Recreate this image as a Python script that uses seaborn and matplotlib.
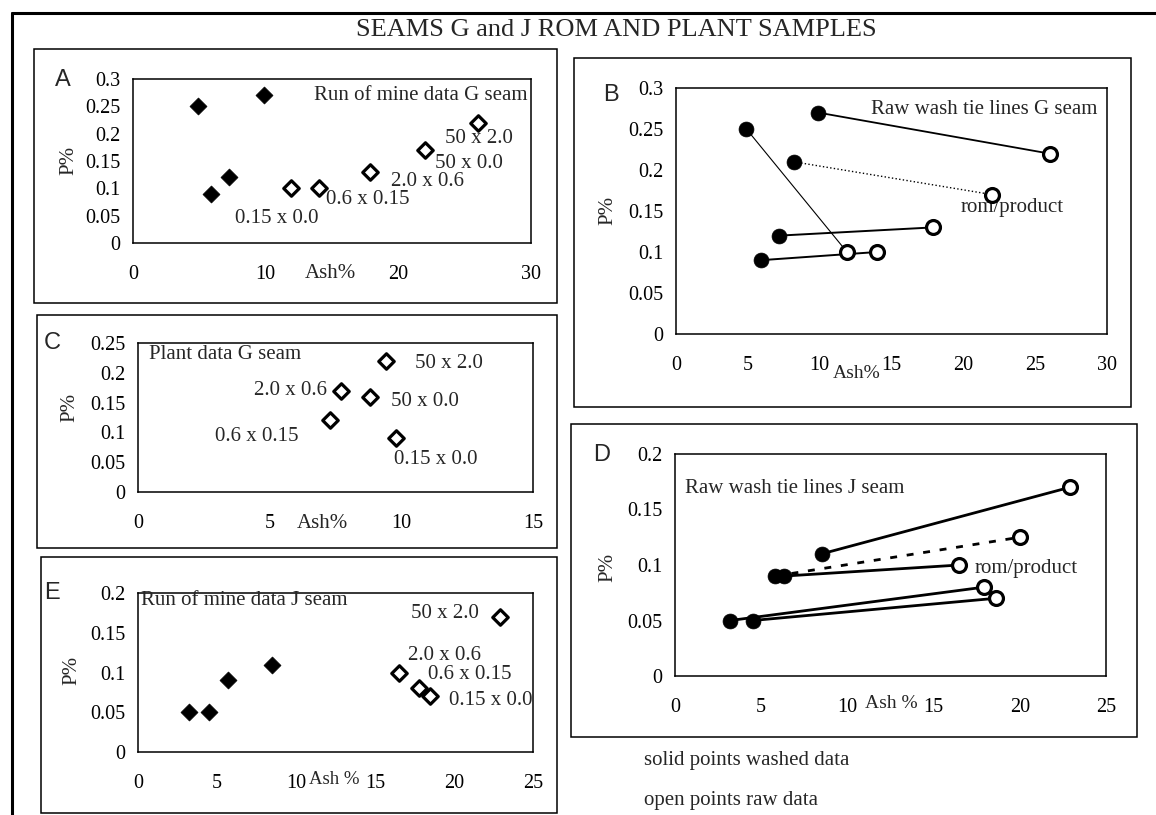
import numpy as np
import pandas as pd
import matplotlib
matplotlib.use("Agg")
import matplotlib.pyplot as plt
import seaborn as sns
from matplotlib.lines import Line2D
from matplotlib.patches import Rectangle

# ---------------- data ----------------
# Panel A: run of mine, G seam
g_rom_washed_ash = [4.9, 5.9, 7.2, 9.9]
g_rom_washed_p = [0.25, 0.09, 0.12, 0.27]
g_rom_raw_ash = [11.9, 14.0, 17.9, 22.0, 26.0]
g_rom_raw_p = [0.10, 0.10, 0.13, 0.17, 0.22]
g_rom_raw_labels = ["0.15 x 0.0", "0.6 x 0.15", "2.0 x 0.6", "50 x 0.0", "50 x 2.0"]

# Panel B: raw/wash tie lines, G seam
g_tie_washed_ash = [9.9, 4.9, 8.2, 7.2, 5.9]
g_tie_washed_p = [0.27, 0.25, 0.21, 0.12, 0.09]
g_tie_raw_ash = [26.0, 11.9, 22.0, 17.9, 14.0]
g_tie_raw_p = [0.22, 0.10, 0.17, 0.13, 0.10]

# Panel C: plant data, G seam
g_plant_ash = [7.3, 7.7, 8.8, 9.4, 9.8]
g_plant_p = [0.12, 0.17, 0.16, 0.22, 0.09]
g_plant_labels = ["0.6 x 0.15", "2.0 x 0.6", "50 x 0.0", "50 x 2.0", "0.15 x 0.0"]

# Panel D: raw/wash tie lines, J seam
j_tie_washed_ash = [8.5, 5.8, 6.3, 3.2, 4.5]
j_tie_washed_p = [0.11, 0.09, 0.09, 0.05, 0.05]
j_tie_raw_ash = [22.9, 20.0, 16.5, 17.9, 18.6]
j_tie_raw_p = [0.17, 0.125, 0.10, 0.08, 0.07]

# Panel E: run of mine, J seam
j_rom_washed_ash = [3.2, 4.5, 5.7, 8.5]
j_rom_washed_p = [0.05, 0.05, 0.09, 0.11]
j_rom_raw_ash = [16.5, 17.8, 18.5, 22.9]
j_rom_raw_p = [0.10, 0.08, 0.07, 0.17]
j_rom_raw_labels = ["2.0 x 0.6", "0.6 x 0.15", "0.15 x 0.0", "50 x 2.0"]

# tick values
xt_A = [0, 10, 20, 30]
xt_B = [0, 5, 10, 15, 20, 25, 30]
xt_C = [0, 5, 10, 15]
xt_DE = [0, 5, 10, 15, 20, 25]
yt_AB = [0, 0.05, 0.1, 0.15, 0.2, 0.25, 0.3]
yt_C = [0, 0.05, 0.1, 0.15, 0.2, 0.25]
yt_DE = [0, 0.05, 0.1, 0.15, 0.2]

# ---------------- style ----------------
sns.set_style("white")
plt.rcParams["font.family"] = ["Liberation Serif", "DejaVu Serif"]
plt.rcParams["axes.linewidth"] = 1.1

W, H = 1156, 815
fig = plt.figure(figsize=(W / 100, H / 100), dpi=100)
fig.patch.set_facecolor("white")

FS = 15      # annotation text
TFS = 14.5   # tick labels
SANS = ["Liberation Sans", "DejaVu Sans"]


def ax_at(L, T, R, B):
    return fig.add_axes([L / W, 1 - B / H, (R - L) / W, (B - T) / H])


def box(L, T, R, B, lw=1.1):
    fig.add_artist(Rectangle((L / W, 1 - B / H), (R - L) / W, (B - T) / H,
                             transform=fig.transFigure, fill=False,
                             lw=lw, ec="black"))


def ftext(x, y, s, **kw):
    kw.setdefault("fontsize", FS)
    kw.setdefault("ha", "center")
    kw.setdefault("va", "center")
    fig.text(x / W, 1 - y / H, s, **kw)


def style_axes(ax, xt, yt):
    ax.set_xlim(xt[0], xt[-1])
    ax.set_ylim(yt[0], yt[-1])
    ax.set_xticks(xt)
    ax.set_yticks(yt)
    ax.set_xticklabels([f"{v:g}" for v in xt])
    ax.set_yticklabels([f"{v:g}" for v in yt])
    ax.tick_params(axis="x", direction="inout", length=6, width=1, pad=13,
                   labelsize=TFS, colors="black")
    ax.tick_params(axis="y", direction="out", length=5, width=1, pad=4,
                   labelsize=TFS, colors="black")
    ax.set_xlabel("")
    ax.set_ylabel("")
    for sp in ax.spines.values():
        sp.set_visible(True)
        sp.set_color("black")
    ax.set_facecolor("white")


def solid_pts(ax, x, y, marker):
    s = 75 if marker == "D" else 115
    sns.scatterplot(x=x, y=y, ax=ax, marker=marker, s=s, color="black",
                    edgecolor="black", linewidth=0.5, zorder=4, clip_on=False)


def open_pts(ax, x, y, marker):
    s = 62 if marker == "D" else 100
    sns.scatterplot(x=x, y=y, ax=ax, marker=marker, s=s, color="white",
                    edgecolor="black", linewidth=2.3, zorder=4, clip_on=False)


def tie(ax, x0, y0, x1, y1, lw, ls):
    sns.lineplot(x=[x0, x1], y=[y0, y1], ax=ax, sort=False, estimator=None,
                 color="black", lw=lw, linestyle=ls, zorder=2)


# ---------------- outer frame & title ----------------
fig.add_artist(Line2D([12 / W, 12 / W], [1 - 13 / H, 0], transform=fig.transFigure,
                      color="black", lw=2.2))
fig.add_artist(Line2D([12 / W, 1], [1 - 13 / H, 1 - 13 / H], transform=fig.transFigure,
                      color="black", lw=2.2))
ftext(356, 30, "SEAMS G and J ROM AND PLANT SAMPLES", fontsize=19, ha="left")

# ---------------- panel A ----------------
box(34, 49, 557, 303)
axA = ax_at(133, 79, 531, 243)
solid_pts(axA, g_rom_washed_ash, g_rom_washed_p, "D")
open_pts(axA, g_rom_raw_ash, g_rom_raw_p, "D")
style_axes(axA, xt_A, yt_AB)
A_lab_pos = [(10.8, 0.045), (17.7, 0.080), (22.2, 0.113), (25.3, 0.145), (26.1, 0.192)]
for (lx, ly), s in zip(A_lab_pos, g_rom_raw_labels):
    axA.text(lx, ly, s, fontsize=FS, ha="center", va="center")
axA.text(29.7, 0.269, "Run of mine data G seam", fontsize=FS, ha="right", va="center")
ftext(63, 80, "A", fontsize=17, family=SANS)
ftext(69, 160, "P%", rotation=90)
ftext(330, 274, "Ash%")

# ---------------- panel B ----------------
box(574, 58, 1131, 407)
axB = ax_at(676, 88, 1107, 334)
B_styles = [(1.3, "-"), (0.8, "-"), (1.0, ":"), (1.4, "-"), (1.4, "-")]
for i, (lw, ls) in enumerate(B_styles):
    tie(axB, g_tie_washed_ash[i], g_tie_washed_p[i], g_tie_raw_ash[i], g_tie_raw_p[i], lw, ls)
solid_pts(axB, g_tie_washed_ash, g_tie_washed_p, "o")
open_pts(axB, g_tie_raw_ash, g_tie_raw_p, "o")
style_axes(axB, xt_B, yt_AB)
axB.text(29.3, 0.274, "Raw wash tie lines G seam", fontsize=FS, ha="right", va="center")
axB.text(23.4, 0.154, "rom/product", fontsize=FS, ha="center", va="center")
ftext(611, 95, "B", fontsize=17, family=SANS)
ftext(608, 210, "P%", rotation=90)
ftext(857, 374, "Ash%", fontsize=14)

# ---------------- panel C ----------------
box(37, 315, 557, 548)
axC = ax_at(138, 343, 533, 492)
open_pts(axC, g_plant_ash, g_plant_p, "D")
style_axes(axC, xt_C, yt_C)
C_lab_pos = [(4.5, 0.093), (5.8, 0.171), (10.9, 0.152), (11.8, 0.216), (11.3, 0.054)]
for (lx, ly), s in zip(C_lab_pos, g_plant_labels):
    axC.text(lx, ly, s, fontsize=FS, ha="center", va="center")
axC.text(0.4, 0.230, "Plant data G seam", fontsize=FS, ha="left", va="center")
ftext(52, 343, "C", fontsize=17, family=SANS)
ftext(70, 407, "P%", rotation=90)
ftext(322, 523, "Ash%")

# ---------------- panel D ----------------
box(571, 424, 1137, 737)
axD = ax_at(675, 454, 1106, 676)
D_styles = [(2.0, "-"), (2.0, (0, (2.5, 3.5))), (2.0, "-"), (2.0, "-"), (2.0, "-")]
for i, (lw, ls) in enumerate(D_styles):
    tie(axD, j_tie_washed_ash[i], j_tie_washed_p[i], j_tie_raw_ash[i], j_tie_raw_p[i], lw, ls)
solid_pts(axD, j_tie_washed_ash, j_tie_washed_p, "o")
open_pts(axD, j_tie_raw_ash, j_tie_raw_p, "o")
style_axes(axD, xt_DE, yt_DE)
axD.text(0.6, 0.169, "Raw wash tie lines J seam", fontsize=FS, ha="left", va="center")
axD.text(17.4, 0.097, "rom/product", fontsize=FS, ha="left", va="center")
ftext(602, 455, "D", fontsize=17, family=SANS)
ftext(608, 567, "P%", rotation=90)
ftext(891, 704, "Ash %", fontsize=14)

# ---------------- panel E ----------------
box(41, 557, 557, 813)
axE = ax_at(138, 593, 533, 752)
solid_pts(axE, j_rom_washed_ash, j_rom_washed_p, "D")
open_pts(axE, j_rom_raw_ash, j_rom_raw_p, "D")
style_axes(axE, xt_DE, yt_DE)
E_lab_pos = [(19.4, 0.122), (21.0, 0.097), (22.3, 0.065), (19.4, 0.174)]
for (lx, ly), s in zip(E_lab_pos, j_rom_raw_labels):
    axE.text(lx, ly, s, fontsize=FS, ha="center", va="center")
axE.text(0.2, 0.191, "Run of mine data J seam", fontsize=FS, ha="left", va="center")
ftext(52, 593, "E", fontsize=17, family=SANS)
ftext(72, 670, "P%", rotation=90)
ftext(334, 779, "Ash %", fontsize=13.5)

# ---------------- footnotes ----------------
ftext(644, 760, "solid points washed data", ha="left")
ftext(644, 801, "open points raw data", ha="left")

fig.savefig("out.png", dpi=100, facecolor="white")
